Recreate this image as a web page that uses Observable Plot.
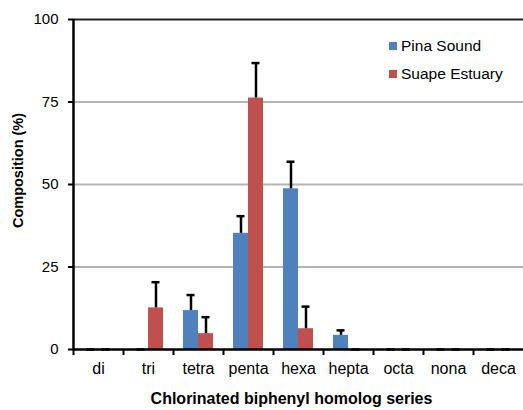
<!DOCTYPE html>
<html>
<head>
<meta charset="utf-8">
<script src="https://cdn.jsdelivr.net/npm/d3@7"></script>
<script src="https://cdn.jsdelivr.net/npm/@observablehq/plot@0.6"></script>
<style>
  html, body { margin: 0; padding: 0; background: #fff; }
  #wrap { position: relative; width: 523px; height: 410px; font-family: "Liberation Sans", Arial, sans-serif; }
  .legend { position: absolute; left: 389px; font-size: 15.5px; color: #000; display: flex; align-items: center; white-space: nowrap; }
  .legend span.sw { display: inline-block; width: 8px; height: 8px; margin-right: 4px; }
</style>
</head>
<body>
<div id="wrap"></div>
<script>
const categories = ["di", "tri", "tetra", "penta", "hexa", "hepta", "octa", "nona", "deca"];
const seriesNames = ["Pina Sound", "Suape Estuary"];
const pinaValues = [0, 0, 11.8, 35.2, 48.7, 4.3, 0, 0, 0];
const pinaErrors = [0, 0, 4.7, 5.2, 8.2, 1.5, 0, 0, 0];
const suapeValues = [0, 12.6, 4.8, 76.2, 6.3, 0, 0, 0, 0];
const suapeErrors = [0, 7.8, 5.0, 10.6, 6.7, 0, 0, 0, 0];
const yTicks = [0, 25, 50, 75, 100];
const colors = ["#4F81BD", "#C0504D"];

const pina = categories.map((c, i) => ({cat: c, v: pinaValues[i], e: pinaErrors[i]}));
const suape = categories.map((c, i) => ({cat: c, v: suapeValues[i], e: suapeErrors[i]}));

const font = "'Liberation Sans', Arial, sans-serif";

const chart = Plot.plot({
  width: 523,
  height: 410,
  marginLeft: 73,
  marginRight: 0,
  marginTop: 19,
  marginBottom: 61,
  style: {fontFamily: font, fontSize: "15px", color: "#000", background: "#fff"},
  x: {domain: categories, padding: 0, axis: null},
  y: {domain: [0, 100], axis: null},
  marks: [
    Plot.ruleY(yTicks.filter(d => d > 0 && d < 100), {stroke: "#b4b4b4", strokeWidth: 2}),
    Plot.ruleY([100], {stroke: "#222", strokeWidth: 2}),
    Plot.barY(pina, {x: "cat", y: "v", fill: colors[0], insetLeft: 10, insetRight: 25}),
    Plot.barY(suape, {x: "cat", y: "v", fill: colors[1], insetLeft: 25, insetRight: 10}),
    Plot.ruleX(pina.filter(d => d.e > 0), {x: "cat", y1: "v", y2: d => d.v + d.e, dx: -7.5, stroke: "#000", strokeWidth: 2.5}),
    Plot.ruleX(suape.filter(d => d.e > 0), {x: "cat", y1: "v", y2: d => d.v + d.e, dx: 7.5, stroke: "#000", strokeWidth: 2.5}),
    Plot.tickY(pina, {x: "cat", y: d => d.v + d.e, insetLeft: 13.5, insetRight: 28.5, stroke: "#000", strokeWidth: 2.5}),
    Plot.tickY(suape, {x: "cat", y: d => d.v + d.e, insetLeft: 28.5, insetRight: 13.5, stroke: "#000", strokeWidth: 2.5}),
    // axes lines
    Plot.ruleY([0], {stroke: "#000", strokeWidth: 2.5}),
    Plot.ruleX([categories[0]], {x: d => d, y1: 0, y2: 100, dx: -25, stroke: "#000", strokeWidth: 2.5}),
    // x boundary ticks
    Plot.ruleX(categories, {x: d => d, y1: 0, y2: 0, insetBottom: -6, dx: -25, stroke: "#000", strokeWidth: 2}),
    // y ticks
    Plot.axisY({ticks: yTicks, tickSize: 5, tickPadding: 10, tickFormat: d => d, stroke: "#000", strokeWidth: 2, fontSize: 15, label: null}),
    Plot.axisX({tickSize: 0, tickPadding: 13, fontSize: 16, label: null}),
    Plot.text(["Composition (%)"], {frameAnchor: "left", textAnchor: "middle", dx: -55, dy: -14, rotate: -90, fontWeight: "bold", fontSize: 14.5, fill: "#000"}),
    Plot.text(["Chlorinated biphenyl homolog series"], {frameAnchor: "bottom", dy: 54, dx: -7, fontWeight: "bold", fontSize: 16, fill: "#000"})
  ]
});

const wrap = document.getElementById("wrap");
wrap.appendChild(chart);
const legendY = [46, 74];
seriesNames.forEach((name, i) => {
  const el = document.createElement("div");
  el.className = "legend";
  el.style.top = (legendY[i] - 9) + "px";
  el.innerHTML = `<span class="sw" style="background:${colors[i]}"></span>${name}`;
  wrap.appendChild(el);
});
</script>
</body>
</html>
